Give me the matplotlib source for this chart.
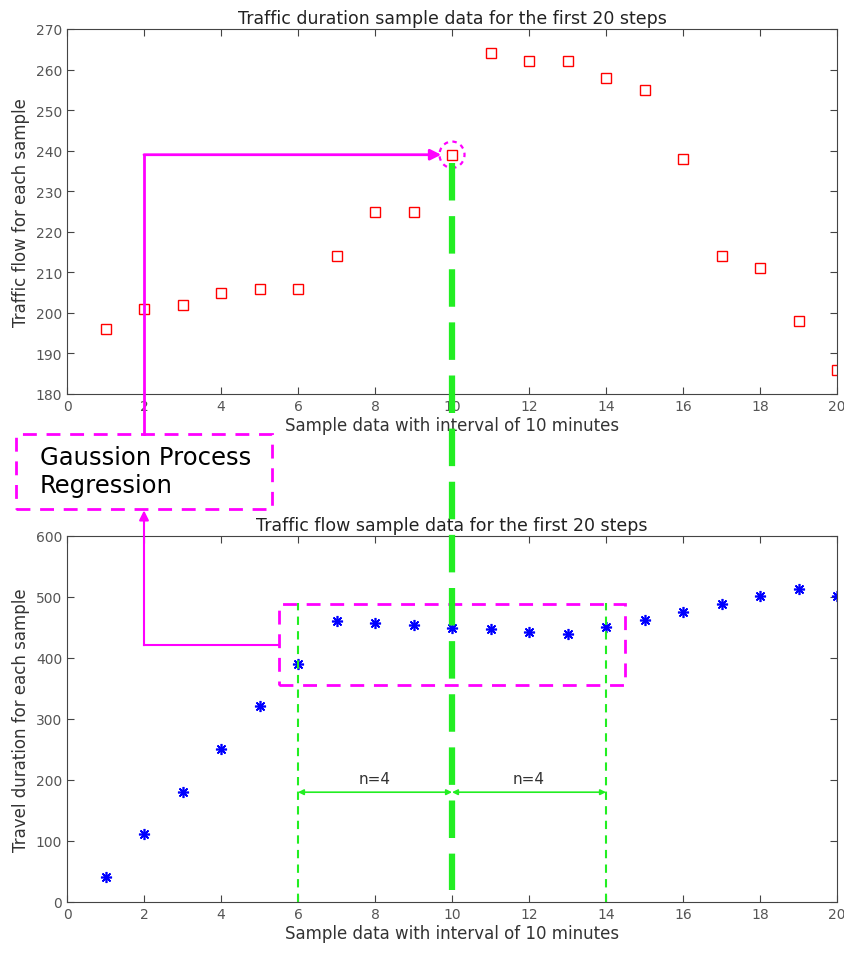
import matplotlib
matplotlib.use("Agg")
import matplotlib.pyplot as plt
from matplotlib.lines import Line2D
from matplotlib.patches import Rectangle, Ellipse, FancyArrowPatch

# sample index (10-minute steps)
steps = list(range(1, 21))
# upper panel: traffic flow per sample
flow = [196, 201, 202, 205, 206, 206, 214, 225, 225, 239,
        264, 262, 262, 258, 255, 238, 214, 211, 198, 186]
# lower panel: travel duration per sample
duration = [41, 111, 180, 251, 322, 390, 461, 458, 454, 450,
            447, 443, 439, 451, 463, 476, 488, 501, 513, 502]

x_ticks = list(range(0, 21, 2))
flow_ticks = list(range(180, 271, 10))
duration_ticks = list(range(0, 601, 100))

target = 10          # predicted step
window = 4           # neighbours on each side
gpr_label = "Gaussion Process\nRegression"

W, H = 844, 954
fig = plt.figure(figsize=(W / 100, H / 100), dpi=100)
plt.rcParams["font.family"] = "DejaVu Sans"

ax1 = fig.add_axes([67 / W, 1 - 395 / H, 770 / W, 365 / H])
ax2 = fig.add_axes([67 / W, 1 - 903 / H, 770 / W, 366 / H])

axis_col = "#444444"
for ax in (ax1, ax2):
    ax.set_xlim(0, 20)
    ax.set_xticks(x_ticks)
    ax.tick_params(direction="in", top=True, right=True, length=5,
                   colors=axis_col, labelsize=10, labelcolor="#555555")
    for s in ax.spines.values():
        s.set_color(axis_col)
    ax.set_xlabel("Sample data with interval of 10 minutes", fontsize=12,
                  color="#333333", labelpad=2)

ax1.plot(steps, flow, "s", mfc="none", mec="red", ms=6.5, mew=1.0)
ax1.set_ylim(180, 270)
ax1.set_yticks(flow_ticks)
ax1.set_ylabel("Traffic flow for each sample", fontsize=12, color="#333333")
ax1.set_title("Traffic duration sample data for the first 20 steps",
              fontsize=12.5, color="#222222", pad=4)

ax2.plot(steps, duration, ls="none", marker=(8, 2, 0), color="blue",
         ms=8, mew=1.2)
ax2.set_ylim(0, 600)
ax2.set_yticks(duration_ticks)
ax2.set_ylabel("Travel duration for each sample", fontsize=12, color="#333333")
ax2.set_title("Traffic flow sample data for the first 20 steps",
              fontsize=12.5, color="#222222", pad=4)


def to_fig(ax, x, y):
    """data coords of ax -> figure fraction"""
    px = ax.transData.transform((x, y))
    return fig.transFigure.inverted().transform(px)


def fpix(x, y):
    """figure pixel (top-left origin) -> figure fraction"""
    return (x / W, 1 - y / H)


fig.canvas.draw()

green = "#22ee22"
magenta = "#ff00ff"
lo, hi = target - window, target + window
tval = flow[target - 1]

# thick green line linking the predicted point across both panels
p_top = to_fig(ax1, target, tval - 2)
p_bot = to_fig(ax2, target, 20)
fig.add_artist(Line2D([p_top[0], p_bot[0]], [p_top[1], p_bot[1]],
                      color=green, lw=4.5, ls=(0, (6, 2.5))))

# window boundaries in the lower panel
for xv in (lo, hi):
    ax2.plot([xv, xv], [0, 490], color=green, lw=1.5, ls=(0, (4, 3)),
             clip_on=False)
for a, b in ((lo, target), (target, hi)):
    ax2.annotate("", xy=(b, 180), xytext=(a, 180),
                 arrowprops=dict(arrowstyle="<|-|>", color=green, lw=1.2,
                                 mutation_scale=8, shrinkA=0, shrinkB=0))
    ax2.text((a + b) / 2, 190, "n=4", ha="center", va="bottom",
             fontsize=11, color="#333333")

# dashed box around the input window
ax2.add_patch(Rectangle((lo - 0.5, 355), 2 * window + 1, 133, fill=False,
                        ec=magenta, lw=2, ls=(0, (5, 3.5)), clip_on=False))

# dashed circle on the predicted value
ax1.add_patch(Ellipse((target, tval), 0.65, 6.5, fill=False, ec=magenta,
                      lw=1.6, ls=(0, (2, 2)), clip_on=False))

# GPR box between the panels
bx0, by0 = fpix(16, 510)
bx1, by1 = fpix(272, 435)
fig.add_artist(Rectangle((bx0, by0), bx1 - bx0, by1 - by0, fill=False,
                         ec=magenta, lw=2, ls=(0, (5, 3.5)),
                         transform=fig.transFigure))
fig.text(*fpix(40, 472), gpr_label, fontsize=17.5, va="center",
         ha="left", linespacing=1.25, color="black")

# flow from window -> GPR -> prediction
x_arm = to_fig(ax1, 2, 0)[0]
ycorner = to_fig(ax1, 2, tval)[1]
fig.add_artist(Line2D([x_arm, x_arm], [by1, ycorner], color=magenta, lw=2))
fig.add_artist(FancyArrowPatch((x_arm, ycorner),
                               to_fig(ax1, target - 0.28, tval),
                               transform=fig.transFigure,
                               arrowstyle="-|>", mutation_scale=16,
                               color=magenta, lw=2, shrinkA=0, shrinkB=0))
y_link = to_fig(ax2, 0, 421)[1]
x_box = to_fig(ax2, lo - 0.5, 0)[0]
fig.add_artist(Line2D([x_box, x_arm], [y_link, y_link], color=magenta, lw=1.5))
fig.add_artist(FancyArrowPatch((x_arm, y_link), (x_arm, by0),
                               transform=fig.transFigure,
                               arrowstyle="-|>", mutation_scale=14,
                               color=magenta, lw=1.5, shrinkA=0, shrinkB=1))

fig.savefig("out.png", dpi=100)
